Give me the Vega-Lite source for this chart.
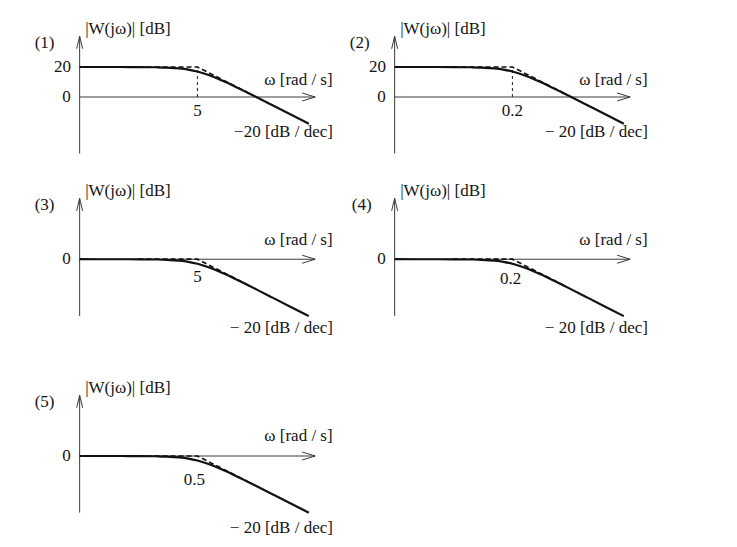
{
  "$schema": "https://vega.github.io/schema/vega-lite/v6.json",
  "padding": {"left": 9, "top": 10, "right": 0, "bottom": 0},
  "background": "white",
  "spacing": 0,
  "config": {
    "view": {"stroke": null},
    "text": {"font": "Liberation Serif", "fontSize": 17, "color": "#141414"}
  },
  "datasets": {
    "p1": [
      {"part": "axis", "w": 0.05, "w2": 0.05, "db": -37.7, "db2": 40.5},
      {"part": "axis", "w": 0.05, "w2": 500, "db": 0, "db2": 0},
      {"part": "arrow", "dir": "up", "w": 0.05, "db": 40.5},
      {"part": "arrow", "dir": "right", "w": 500, "db": 0},
      {"part": "vdash", "w": 5, "w2": 5, "db": 0, "db2": 20},
      {"part": "asym", "w": 0.5, "db": 20},
      {"part": "asym", "w": 5, "db": 20},
      {"part": "asym", "w": 40, "db": 1.94},
      {"part": "curve", "w": 0.05, "db": 20},
      {"part": "curve", "w": 0.25, "db": 19.99},
      {"part": "curve", "w": 0.5, "db": 19.96},
      {"part": "curve", "w": 1, "db": 19.83},
      {"part": "curve", "w": 1.5, "db": 19.63},
      {"part": "curve", "w": 2.5, "db": 19.03},
      {"part": "curve", "w": 3.5, "db": 18.27},
      {"part": "curve", "w": 5, "db": 16.99},
      {"part": "curve", "w": 7.5, "db": 14.88},
      {"part": "curve", "w": 10, "db": 13.01},
      {"part": "curve", "w": 15, "db": 10},
      {"part": "curve", "w": 25, "db": 5.85},
      {"part": "curve", "w": 35, "db": 3.01},
      {"part": "curve", "w": 50, "db": -0.04},
      {"part": "curve", "w": 100, "db": -6.03},
      {"part": "curve", "w": 200, "db": -12.04},
      {"part": "curve", "w": 390, "db": -17.84},
      {"part": "text", "al": "center", "w": 0.0127, "db": 36, "label": "(1)"},
      {"part": "text", "al": "center", "w": 0.0255, "db": 20, "label": "20"},
      {"part": "text", "al": "center", "w": 0.03, "db": 0, "label": "0"},
      {"part": "text", "al": "center", "w": 5, "db": -9.5, "label": "5"},
      {"part": "text", "al": "left", "w": 0.062, "db": 45.5, "label": "|W(jω)| [dB]"},
      {"part": "text", "al": "right", "w": 990, "db": 11.6, "label": "ω  [rad / s]"},
      {"part": "text", "al": "right", "w": 1000, "db": -23.5, "label": "−20 [dB / dec]"}
    ],
    "p2": [
      {"part": "axis", "w": 0.002, "w2": 0.002, "db": -37.7, "db2": 40.5},
      {"part": "axis", "w": 0.002, "w2": 20, "db": 0, "db2": 0},
      {"part": "arrow", "dir": "up", "w": 0.002, "db": 40.5},
      {"part": "arrow", "dir": "right", "w": 20, "db": 0},
      {"part": "vdash", "w": 0.2, "w2": 0.2, "db": 0, "db2": 20},
      {"part": "asym", "w": 0.02, "db": 20},
      {"part": "asym", "w": 0.2, "db": 20},
      {"part": "asym", "w": 1.6, "db": 1.94},
      {"part": "curve", "w": 0.002, "db": 20},
      {"part": "curve", "w": 0.01, "db": 19.99},
      {"part": "curve", "w": 0.02, "db": 19.96},
      {"part": "curve", "w": 0.04, "db": 19.83},
      {"part": "curve", "w": 0.06, "db": 19.63},
      {"part": "curve", "w": 0.1, "db": 19.03},
      {"part": "curve", "w": 0.14, "db": 18.27},
      {"part": "curve", "w": 0.2, "db": 16.99},
      {"part": "curve", "w": 0.3, "db": 14.88},
      {"part": "curve", "w": 0.4, "db": 13.01},
      {"part": "curve", "w": 0.6, "db": 10},
      {"part": "curve", "w": 1, "db": 5.85},
      {"part": "curve", "w": 1.4, "db": 3.01},
      {"part": "curve", "w": 2, "db": -0.04},
      {"part": "curve", "w": 4, "db": -6.03},
      {"part": "curve", "w": 8, "db": -12.04},
      {"part": "curve", "w": 15.6, "db": -17.84},
      {"part": "text", "al": "center", "w": 0.000509, "db": 36, "label": "(2)"},
      {"part": "text", "al": "center", "w": 0.00102, "db": 20, "label": "20"},
      {"part": "text", "al": "center", "w": 0.0012, "db": 0, "label": "0"},
      {"part": "text", "al": "center", "w": 0.2, "db": -9.5, "label": "0.2"},
      {"part": "text", "al": "left", "w": 0.00248, "db": 45.5, "label": "|W(jω)| [dB]"},
      {"part": "text", "al": "right", "w": 39.6, "db": 11.6, "label": "ω  [rad / s]"},
      {"part": "text", "al": "right", "w": 40, "db": -23.5, "label": "− 20 [dB / dec]"}
    ],
    "p3": [
      {"part": "axis", "w": 0.05, "w2": 0.05, "db": -37.7, "db2": 40.5},
      {"part": "axis", "w": 0.05, "w2": 500, "db": 0, "db2": 0},
      {"part": "arrow", "dir": "up", "w": 0.05, "db": 40.5},
      {"part": "arrow", "dir": "right", "w": 500, "db": 0},
      {"part": "asym", "w": 0.5, "db": 0},
      {"part": "asym", "w": 5, "db": 0},
      {"part": "asym", "w": 40, "db": -18.06},
      {"part": "curve", "w": 0.05, "db": 0},
      {"part": "curve", "w": 0.25, "db": -0.01},
      {"part": "curve", "w": 0.5, "db": -0.04},
      {"part": "curve", "w": 1, "db": -0.17},
      {"part": "curve", "w": 1.5, "db": -0.37},
      {"part": "curve", "w": 2.5, "db": -0.97},
      {"part": "curve", "w": 3.5, "db": -1.73},
      {"part": "curve", "w": 5, "db": -3.01},
      {"part": "curve", "w": 7.5, "db": -5.12},
      {"part": "curve", "w": 10, "db": -6.99},
      {"part": "curve", "w": 15, "db": -10},
      {"part": "curve", "w": 25, "db": -14.15},
      {"part": "curve", "w": 35, "db": -16.99},
      {"part": "curve", "w": 50, "db": -20.04},
      {"part": "curve", "w": 100, "db": -26.03},
      {"part": "curve", "w": 200, "db": -32.04},
      {"part": "curve", "w": 390, "db": -37.84},
      {"part": "text", "al": "center", "w": 0.0127, "db": 36, "label": "(3)"},
      {"part": "text", "al": "center", "w": 0.03, "db": 0, "label": "0"},
      {"part": "text", "al": "center", "w": 5, "db": -11.8, "label": "5"},
      {"part": "text", "al": "left", "w": 0.062, "db": 45.5, "label": "|W(jω)| [dB]"},
      {"part": "text", "al": "right", "w": 990, "db": 12.5, "label": "ω  [rad / s]"},
      {"part": "text", "al": "right", "w": 1000, "db": -46, "label": "− 20 [dB / dec]"}
    ],
    "p4": [
      {"part": "axis", "w": 0.002, "w2": 0.002, "db": -37.7, "db2": 40.5},
      {"part": "axis", "w": 0.002, "w2": 20, "db": 0, "db2": 0},
      {"part": "arrow", "dir": "up", "w": 0.002, "db": 40.5},
      {"part": "arrow", "dir": "right", "w": 20, "db": 0},
      {"part": "asym", "w": 0.02, "db": 0},
      {"part": "asym", "w": 0.2, "db": 0},
      {"part": "asym", "w": 1.6, "db": -18.06},
      {"part": "curve", "w": 0.002, "db": 0},
      {"part": "curve", "w": 0.01, "db": -0.01},
      {"part": "curve", "w": 0.02, "db": -0.04},
      {"part": "curve", "w": 0.04, "db": -0.17},
      {"part": "curve", "w": 0.06, "db": -0.37},
      {"part": "curve", "w": 0.1, "db": -0.97},
      {"part": "curve", "w": 0.14, "db": -1.73},
      {"part": "curve", "w": 0.2, "db": -3.01},
      {"part": "curve", "w": 0.3, "db": -5.12},
      {"part": "curve", "w": 0.4, "db": -6.99},
      {"part": "curve", "w": 0.6, "db": -10},
      {"part": "curve", "w": 1, "db": -14.15},
      {"part": "curve", "w": 1.4, "db": -16.99},
      {"part": "curve", "w": 2, "db": -20.04},
      {"part": "curve", "w": 4, "db": -26.03},
      {"part": "curve", "w": 8, "db": -32.04},
      {"part": "curve", "w": 15.6, "db": -37.84},
      {"part": "text", "al": "center", "w": 0.00055, "db": 36, "label": "(4)"},
      {"part": "text", "al": "center", "w": 0.0012, "db": 0, "label": "0"},
      {"part": "text", "al": "center", "w": 0.186, "db": -13, "label": "0.2"},
      {"part": "text", "al": "left", "w": 0.00248, "db": 45.5, "label": "|W(jω)| [dB]"},
      {"part": "text", "al": "right", "w": 39.6, "db": 12.5, "label": "ω  [rad / s]"},
      {"part": "text", "al": "right", "w": 40, "db": -46, "label": "− 20 [dB / dec]"}
    ],
    "p5": [
      {"part": "axis", "w": 0.005, "w2": 0.005, "db": -37.7, "db2": 40.5},
      {"part": "axis", "w": 0.005, "w2": 50, "db": 0, "db2": 0},
      {"part": "arrow", "dir": "up", "w": 0.005, "db": 40.5},
      {"part": "arrow", "dir": "right", "w": 50, "db": 0},
      {"part": "asym", "w": 0.05, "db": 0},
      {"part": "asym", "w": 0.5, "db": 0},
      {"part": "asym", "w": 4, "db": -18.06},
      {"part": "curve", "w": 0.005, "db": 0},
      {"part": "curve", "w": 0.025, "db": -0.01},
      {"part": "curve", "w": 0.05, "db": -0.04},
      {"part": "curve", "w": 0.1, "db": -0.17},
      {"part": "curve", "w": 0.15, "db": -0.37},
      {"part": "curve", "w": 0.25, "db": -0.97},
      {"part": "curve", "w": 0.35, "db": -1.73},
      {"part": "curve", "w": 0.5, "db": -3.01},
      {"part": "curve", "w": 0.75, "db": -5.12},
      {"part": "curve", "w": 1, "db": -6.99},
      {"part": "curve", "w": 1.5, "db": -10},
      {"part": "curve", "w": 2.5, "db": -14.15},
      {"part": "curve", "w": 3.5, "db": -16.99},
      {"part": "curve", "w": 5, "db": -20.04},
      {"part": "curve", "w": 10, "db": -26.03},
      {"part": "curve", "w": 20, "db": -32.04},
      {"part": "curve", "w": 39, "db": -37.84},
      {"part": "text", "al": "center", "w": 0.00127, "db": 36, "label": "(5)"},
      {"part": "text", "al": "center", "w": 0.003, "db": 0, "label": "0"},
      {"part": "text", "al": "center", "w": 0.445, "db": -16.3, "label": "0.5"},
      {"part": "text", "al": "left", "w": 0.0062, "db": 45.5, "label": "|W(jω)| [dB]"},
      {"part": "text", "al": "right", "w": 99, "db": 13.5, "label": "ω  [rad / s]"},
      {"part": "text", "al": "right", "w": 100, "db": -48, "label": "− 20 [dB / dec]"}
    ]
  },
  "vconcat": [
    {
      "spacing": 0,
      "bounds": "flush",
      "hconcat": [
        {
          "width": 315, "height": 162,
          "data": {"name": "p1"},
          "encoding": {
            "x": {"field": "w", "type": "quantitative", "scale": {"type": "log", "domain": [0.0031548, 706.27], "nice": false}, "axis": null},
            "y": {"field": "db", "type": "quantitative", "scale": {"domain": [-50, 58], "nice": false, "zero": false}, "axis": null}
          },
          "layer": [
            {"transform": [{"filter": "datum.part === 'axis'"}], "mark": {"type": "rule", "color": "#3a3a3a", "strokeWidth": 1}, "encoding": {"x2": {"field": "w2"}, "y2": {"field": "db2"}}},
            {"transform": [{"filter": "datum.part === 'vdash'"}], "mark": {"type": "rule", "color": "#222", "strokeWidth": 1, "strokeDash": [3, 3]}, "encoding": {"x2": {"field": "w2"}, "y2": {"field": "db2"}}},
            {"transform": [{"filter": "datum.part === 'asym'"}], "mark": {"type": "line", "color": "#111", "strokeWidth": 1.7, "strokeDash": [5, 3]}},
            {"transform": [{"filter": "datum.part === 'curve'"}], "mark": {"type": "line", "color": "#111", "strokeWidth": 2.2, "interpolate": "monotone"}},
            {"transform": [{"filter": "datum.part === 'arrow'"}], "mark": {"type": "point", "filled": false, "color": "#3a3a3a", "strokeWidth": 1, "size": 100, "opacity": 1}, "encoding": {"shape": {"field": "dir", "type": "nominal", "scale": {"domain": ["up", "right"], "range": ["M-0.6,2.5L0,0L0.6,2.5", "M-2.6,-0.8L0,0L-2.6,0.8"]}, "legend": null}}},
            {"transform": [{"filter": "datum.part === 'text' && datum.al === 'center'"}], "mark": {"type": "text", "align": "center", "baseline": "middle"}, "encoding": {"text": {"field": "label"}}},
            {"transform": [{"filter": "datum.part === 'text' && datum.al === 'left'"}], "mark": {"type": "text", "align": "left", "baseline": "middle"}, "encoding": {"text": {"field": "label"}}},
            {"transform": [{"filter": "datum.part === 'text' && datum.al === 'right'"}], "mark": {"type": "text", "align": "right", "baseline": "middle"}, "encoding": {"text": {"field": "label"}}}
          ]
        },
        {
          "width": 315, "height": 162,
          "data": {"name": "p2"},
          "encoding": {
            "x": {"field": "w", "type": "quantitative", "scale": {"type": "log", "domain": [0.00012619, 28.251], "nice": false}, "axis": null},
            "y": {"field": "db", "type": "quantitative", "scale": {"domain": [-50, 58], "nice": false, "zero": false}, "axis": null}
          },
          "layer": [
            {"transform": [{"filter": "datum.part === 'axis'"}], "mark": {"type": "rule", "color": "#3a3a3a", "strokeWidth": 1}, "encoding": {"x2": {"field": "w2"}, "y2": {"field": "db2"}}},
            {"transform": [{"filter": "datum.part === 'vdash'"}], "mark": {"type": "rule", "color": "#222", "strokeWidth": 1, "strokeDash": [3, 3]}, "encoding": {"x2": {"field": "w2"}, "y2": {"field": "db2"}}},
            {"transform": [{"filter": "datum.part === 'asym'"}], "mark": {"type": "line", "color": "#111", "strokeWidth": 1.7, "strokeDash": [5, 3]}},
            {"transform": [{"filter": "datum.part === 'curve'"}], "mark": {"type": "line", "color": "#111", "strokeWidth": 2.2, "interpolate": "monotone"}},
            {"transform": [{"filter": "datum.part === 'arrow'"}], "mark": {"type": "point", "filled": false, "color": "#3a3a3a", "strokeWidth": 1, "size": 100, "opacity": 1}, "encoding": {"shape": {"field": "dir", "type": "nominal", "scale": {"domain": ["up", "right"], "range": ["M-0.6,2.5L0,0L0.6,2.5", "M-2.6,-0.8L0,0L-2.6,0.8"]}, "legend": null}}},
            {"transform": [{"filter": "datum.part === 'text' && datum.al === 'center'"}], "mark": {"type": "text", "align": "center", "baseline": "middle"}, "encoding": {"text": {"field": "label"}}},
            {"transform": [{"filter": "datum.part === 'text' && datum.al === 'left'"}], "mark": {"type": "text", "align": "left", "baseline": "middle"}, "encoding": {"text": {"field": "label"}}},
            {"transform": [{"filter": "datum.part === 'text' && datum.al === 'right'"}], "mark": {"type": "text", "align": "right", "baseline": "middle"}, "encoding": {"text": {"field": "label"}}}
          ]
        }
      ]
    },
    {
      "spacing": -3,
      "bounds": "flush",
      "hconcat": [
        {
          "width": 315, "height": 197,
          "data": {"name": "p3"},
          "encoding": {
            "x": {"field": "w", "type": "quantitative", "scale": {"type": "log", "domain": [0.0031548, 706.27], "nice": false}, "axis": null},
            "y": {"field": "db", "type": "quantitative", "scale": {"domain": [-73, 58], "nice": false, "zero": false}, "axis": null}
          },
          "layer": [
            {"transform": [{"filter": "datum.part === 'axis'"}], "mark": {"type": "rule", "color": "#3a3a3a", "strokeWidth": 1}, "encoding": {"x2": {"field": "w2"}, "y2": {"field": "db2"}}},
            {"transform": [{"filter": "datum.part === 'asym'"}], "mark": {"type": "line", "color": "#111", "strokeWidth": 1.7, "strokeDash": [5, 3]}},
            {"transform": [{"filter": "datum.part === 'curve'"}], "mark": {"type": "line", "color": "#111", "strokeWidth": 2.2, "interpolate": "monotone"}},
            {"transform": [{"filter": "datum.part === 'arrow'"}], "mark": {"type": "point", "filled": false, "color": "#3a3a3a", "strokeWidth": 1, "size": 100, "opacity": 1}, "encoding": {"shape": {"field": "dir", "type": "nominal", "scale": {"domain": ["up", "right"], "range": ["M-0.6,2.5L0,0L0.6,2.5", "M-2.6,-0.8L0,0L-2.6,0.8"]}, "legend": null}}},
            {"transform": [{"filter": "datum.part === 'text' && datum.al === 'center'"}], "mark": {"type": "text", "align": "center", "baseline": "middle"}, "encoding": {"text": {"field": "label"}}},
            {"transform": [{"filter": "datum.part === 'text' && datum.al === 'left'"}], "mark": {"type": "text", "align": "left", "baseline": "middle"}, "encoding": {"text": {"field": "label"}}},
            {"transform": [{"filter": "datum.part === 'text' && datum.al === 'right'"}], "mark": {"type": "text", "align": "right", "baseline": "middle"}, "encoding": {"text": {"field": "label"}}}
          ]
        },
        {
          "width": 315, "height": 197,
          "data": {"name": "p4"},
          "encoding": {
            "x": {"field": "w", "type": "quantitative", "scale": {"type": "log", "domain": [0.00012619, 28.251], "nice": false}, "axis": null},
            "y": {"field": "db", "type": "quantitative", "scale": {"domain": [-73, 58], "nice": false, "zero": false}, "axis": null}
          },
          "layer": [
            {"transform": [{"filter": "datum.part === 'axis'"}], "mark": {"type": "rule", "color": "#3a3a3a", "strokeWidth": 1}, "encoding": {"x2": {"field": "w2"}, "y2": {"field": "db2"}}},
            {"transform": [{"filter": "datum.part === 'asym'"}], "mark": {"type": "line", "color": "#111", "strokeWidth": 1.7, "strokeDash": [5, 3]}},
            {"transform": [{"filter": "datum.part === 'curve'"}], "mark": {"type": "line", "color": "#111", "strokeWidth": 2.2, "interpolate": "monotone"}},
            {"transform": [{"filter": "datum.part === 'arrow'"}], "mark": {"type": "point", "filled": false, "color": "#3a3a3a", "strokeWidth": 1, "size": 100, "opacity": 1}, "encoding": {"shape": {"field": "dir", "type": "nominal", "scale": {"domain": ["up", "right"], "range": ["M-0.6,2.5L0,0L0.6,2.5", "M-2.6,-0.8L0,0L-2.6,0.8"]}, "legend": null}}},
            {"transform": [{"filter": "datum.part === 'text' && datum.al === 'center'"}], "mark": {"type": "text", "align": "center", "baseline": "middle"}, "encoding": {"text": {"field": "label"}}},
            {"transform": [{"filter": "datum.part === 'text' && datum.al === 'left'"}], "mark": {"type": "text", "align": "left", "baseline": "middle"}, "encoding": {"text": {"field": "label"}}},
            {"transform": [{"filter": "datum.part === 'text' && datum.al === 'right'"}], "mark": {"type": "text", "align": "right", "baseline": "middle"}, "encoding": {"text": {"field": "label"}}}
          ]
        }
      ]
    },
    {
      "width": 315, "height": 177,
      "data": {"name": "p5"},
      "encoding": {
        "x": {"field": "w", "type": "quantitative", "scale": {"type": "log", "domain": [0.00031548, 70.627], "nice": false}, "axis": null},
        "y": {"field": "db", "type": "quantitative", "scale": {"domain": [-60, 58], "nice": false, "zero": false}, "axis": null}
      },
      "layer": [
        {"transform": [{"filter": "datum.part === 'axis'"}], "mark": {"type": "rule", "color": "#3a3a3a", "strokeWidth": 1}, "encoding": {"x2": {"field": "w2"}, "y2": {"field": "db2"}}},
        {"transform": [{"filter": "datum.part === 'asym'"}], "mark": {"type": "line", "color": "#111", "strokeWidth": 1.7, "strokeDash": [5, 3]}},
        {"transform": [{"filter": "datum.part === 'curve'"}], "mark": {"type": "line", "color": "#111", "strokeWidth": 2.2, "interpolate": "monotone"}},
        {"transform": [{"filter": "datum.part === 'arrow'"}], "mark": {"type": "point", "filled": false, "color": "#3a3a3a", "strokeWidth": 1, "size": 100, "opacity": 1}, "encoding": {"shape": {"field": "dir", "type": "nominal", "scale": {"domain": ["up", "right"], "range": ["M-0.6,2.5L0,0L0.6,2.5", "M-2.6,-0.8L0,0L-2.6,0.8"]}, "legend": null}}},
        {"transform": [{"filter": "datum.part === 'text' && datum.al === 'center'"}], "mark": {"type": "text", "align": "center", "baseline": "middle"}, "encoding": {"text": {"field": "label"}}},
        {"transform": [{"filter": "datum.part === 'text' && datum.al === 'left'"}], "mark": {"type": "text", "align": "left", "baseline": "middle"}, "encoding": {"text": {"field": "label"}}},
        {"transform": [{"filter": "datum.part === 'text' && datum.al === 'right'"}], "mark": {"type": "text", "align": "right", "baseline": "middle"}, "encoding": {"text": {"field": "label"}}}
      ]
    }
  ]
}
